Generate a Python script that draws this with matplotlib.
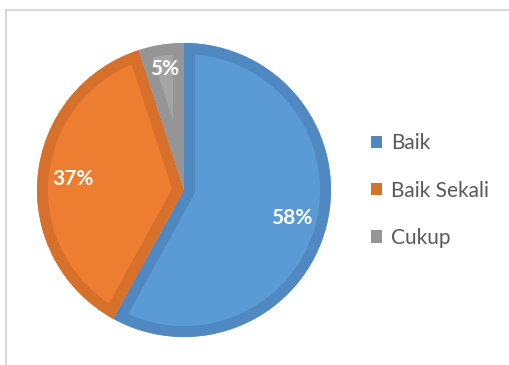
import matplotlib.pyplot as plt
import numpy as np
from matplotlib.lines import Line2D
from matplotlib.patches import Patch, Wedge

labels = ['Baik', 'Baik Sekali', 'Cukup']
values = [58, 37, 5]
fill_colors = ['#5B9BD5', '#ED7D31', '#A5A5A5']
edge_colors = ['#5089C2', '#D6702B', '#959595']

plt.rcParams['font.family'] = ['Lato', 'DejaVu Sans']

fig = plt.figure(figsize=(5.10, 3.65), dpi=100)
ax = fig.add_axes([37 / 510, 28 / 365, 294 / 510, 294 / 365])

wedges, texts, autotexts = ax.pie(values, colors=fill_colors, startangle=90, counterclock=False,
                                  radius=1, autopct='%d%%', pctdistance=0.76,
                                  wedgeprops=dict(linewidth=0),
                                  textprops=dict(color='white', fontsize=15, fontweight='bold'))

# inner border: a double-width outline clipped to its own slice
for w, ec in zip(wedges, edge_colors):
    rim = Wedge(w.center, w.r, w.theta1, w.theta2, facecolor='none', edgecolor=ec,
                linewidth=15.8, joinstyle='miter', zorder=w.get_zorder() + 0.1)
    ax.add_patch(rim)
    rim.set_clip_path(w)

# the thin slice gets its label pushed a bit further out
w = wedges[2]
mid = np.deg2rad((w.theta1 + w.theta2) / 2)
autotexts[2].set_position((0.83 * np.cos(mid), 0.83 * np.sin(mid)))
for t in autotexts:
    t.set_zorder(5)

ax.set_xlim(-1, 1)
ax.set_ylim(-1, 1)
ax.set_aspect('equal')
ax.axis('off')

handles = [Patch(facecolor=c, edgecolor='none') for c in edge_colors]
leg = fig.legend(handles, labels, loc='center left', bbox_to_anchor=(0.69, 0.478),
                 frameon=False, fontsize=15, labelcolor='#595959',
                 handlelength=0.55, handleheight=0.55, handletextpad=0.45, labelspacing=1.3)

# chart area frame
fig.add_artist(Line2D([6.5 / 510, 1], [1 - 9.5 / 365, 1 - 9.5 / 365], color='#d9d9d9', lw=1.5,
                      transform=fig.transFigure))
fig.add_artist(Line2D([6.5 / 510, 6.5 / 510], [0, 1 - 9.5 / 365], color='#d9d9d9', lw=1.5,
                      transform=fig.transFigure))

fig.savefig('out.png', dpi=100)
